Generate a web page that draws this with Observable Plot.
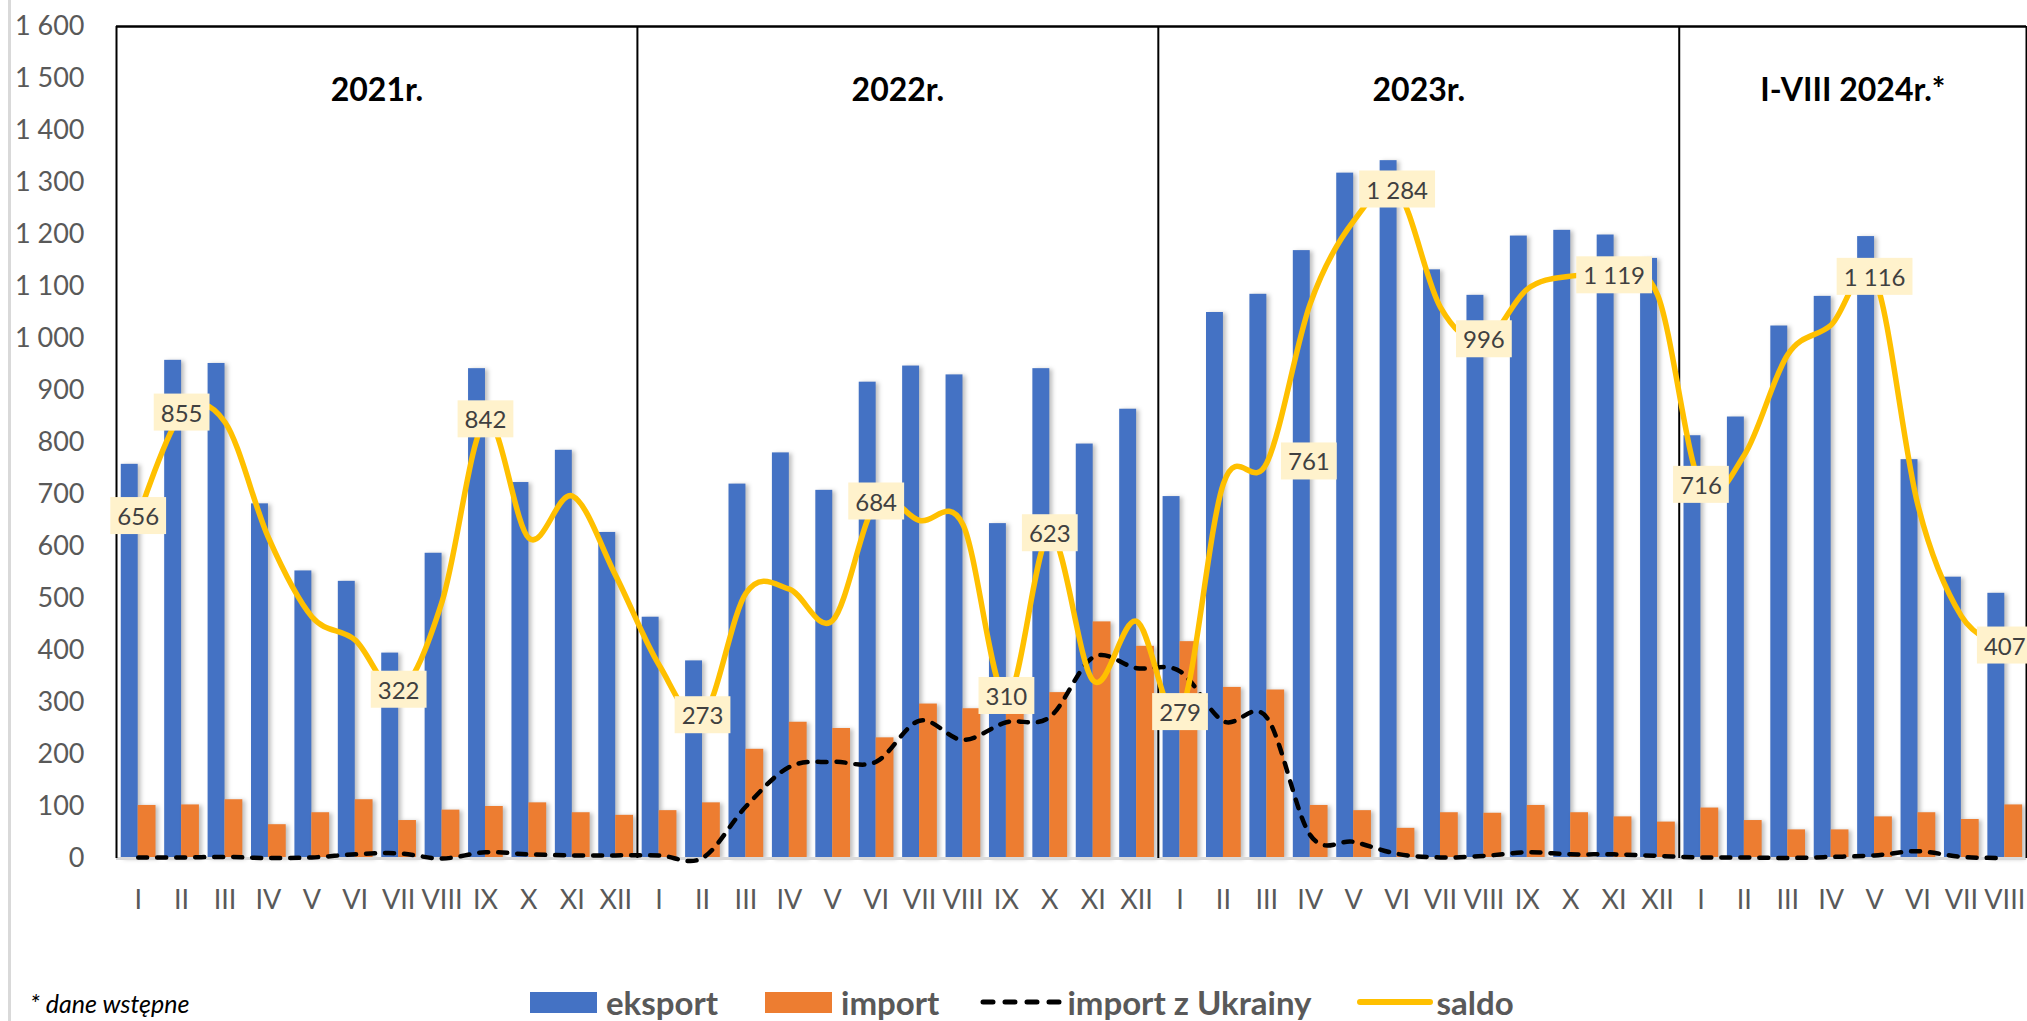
<!DOCTYPE html>
<html>
<head>
<meta charset="utf-8">
<script src="https://cdn.jsdelivr.net/npm/d3@7"></script>
<script src="https://cdn.jsdelivr.net/npm/@observablehq/plot@0.6"></script>
<style>
html, body { margin: 0; padding: 0; background: #fff; }
body { width: 2027px; height: 1021px; overflow: hidden; position: relative; font-family: Lato, sans-serif; }
#chart { position: absolute; left: 0; top: 0; }
.edge { position: absolute; left: 8px; top: 0; width: 3px; height: 1021px; background: #d9d9d9; }
.legend { position: absolute; left: 530px; top: 982px; height: 40px; display: flex; align-items: center;
  font-family: Lato, sans-serif; font-weight: 700; font-size: 33px; color: #595959; white-space: nowrap; }
.legend .item { display: flex; align-items: center; }
.legend .sw { display: inline-block; width: 67px; height: 21px; margin-right: 9px; }
.legend svg { display: block; }
.note { position: absolute; left: 30px; top: 990px; line-height: 1.1; font-family: Lato, sans-serif; font-style: italic; font-size: 25px; color: #000; }
.bars { filter: drop-shadow(3px 1px 2px rgba(0,0,0,0.25)); }
</style>
</head>
<body>
<div class="edge"></div>
<div id="chart"></div>
<div class="legend" id="legend"></div>
<div class="note">* dane wstępne</div>
<script>
// ---- data ----
const years = ["2021r.", "2022r.", "2023r.", "I-VIII 2024r.*"];
const monthsPerYear = [12, 12, 12, 8];
const roman = ["I", "II", "III", "IV", "V", "VI", "VII", "VIII", "IX", "X", "XI", "XII"];

const eksport = [
  758, 958, 952, 682, 553, 533, 395, 587, 942, 723, 785, 627,
  464, 380, 720, 780, 708, 916, 947, 930, 644, 942, 797, 864,
  696, 1050, 1085, 1169, 1318, 1342, 1132, 1083, 1197, 1208, 1199, 1154,
  813, 849, 1024, 1081, 1196, 767, 541, 510
];
const importTotal = [
  102, 103, 113, 65, 88, 113, 73, 93, 100, 107, 88, 83,
  92, 107, 210, 262, 250, 232, 297, 288, 334, 319, 455, 408,
  417, 329, 324, 102, 92, 58, 88, 87, 102, 88, 80, 70,
  97, 73, 55, 55, 80, 88, 75, 103
];
const importUkraina = [
  2, 2, 3, 1, 2, 8, 10, 0, 12, 8, 6, 6,
  6, 1, 100, 176, 186, 186, 265, 228, 262, 272, 387, 366,
  360, 264, 271, 45, 32, 9, 2, 5, 12, 8, 8, 5,
  2, 2, 1, 3, 6, 14, 3, 1
];
const saldo = [
  656, 855, 839, 617, 465, 420, 322, 494, 842, 616, 697, 544,
  372, 273, 510, 518, 458, 684, 650, 642, 310, 623, 342, 456,
  279, 721, 761, 1067, 1226, 1284, 1060, 996, 1095, 1120, 1119, 1084,
  716, 776, 969, 1026, 1116, 679, 466, 407
];
// months whose saldo value is labelled; labelsRight are drawn to the right of the point
const labelled = [0, 1, 6, 8, 13, 17, 20, 21, 24, 29, 31, 34, 36, 40, 43];
const labelledRight = [26];
const yTicks = d3.range(0, 1601, 100);

const seriesNames = ["eksport", "import", "import z Ukrainy", "saldo"];
const colors = { eksport: "#4472C4", import: "#ED7D31", ukraina: "#000000", saldo: "#FFC000" };

// ---- build table ----
const monthLabels = [];
const yearRows = [];
let start = 0;
years.forEach((name, k) => {
  const n = monthsPerYear[k];
  for (let m = 0; m < n; m++) monthLabels.push(roman[m]);
  yearRows.push({ name, start, n });
  start += n;
});
const nMonths = monthLabels.length;
const data = monthLabels.map((m, i) => ({
  i, m, e: eksport[i], im: importTotal[i], ua: importUkraina[i], s: saldo[i]
}));
const separators = [-0.5, ...yearRows.map(r => r.start + r.n - 0.5)];

const fmt = d3.formatLocale({ decimal: ",", thousands: " ", grouping: [3], currency: ["", ""] }).format(",d");

const barW = 0.39;

const svg = Plot.plot({
  width: 2027,
  height: 940,
  marginLeft: 116,
  marginRight: 1,
  marginTop: 26,
  marginBottom: 82,
  style: { fontFamily: "Lato, sans-serif", background: "transparent", overflow: "visible" },
  x: { type: "linear", domain: [-0.5, nMonths - 0.5] },
  y: { domain: [0, 1600] },
  marks: [
    Plot.rect(data, { x1: d => d.i - barW, x2: d => d.i, y1: 0, y2: "e", fill: colors.eksport, className: "bars" }),
    Plot.rect(data, { x1: d => d.i, x2: d => d.i + barW + 0.02, y1: 0, y2: "im", fill: colors.import, className: "bars" }),
    Plot.ruleY([0], { stroke: "#d9d9d9", strokeWidth: 3 }),
    Plot.ruleY([1600], { stroke: "#000", strokeWidth: 2.5 }),
    Plot.ruleX(separators, { stroke: "#000", strokeWidth: 2 }),
    Plot.axisY({ ticks: yTicks, tickFormat: fmt, tickSize: 0, tickPadding: 32, fontSize: 27, color: "#595959", label: null }),
    Plot.axisX({ ticks: d3.range(nMonths), tickFormat: i => monthLabels[i], tickSize: 0, tickPadding: 31, fontSize: 27, color: "#595959", label: null }),
    Plot.line(data, { x: "i", y: "ua", stroke: colors.ukraina, strokeWidth: 4.5, strokeDasharray: "9,10", strokeLinecap: "round", curve: "cardinal", tension: 0 }),
    Plot.line(data, { x: "i", y: "s", stroke: colors.saldo, strokeWidth: 5.5, curve: "cardinal", tension: 0 }),
    Plot.text(data.filter(d => labelled.includes(d.i)), { x: "i", y: "s", text: d => fmt(d.s), fontSize: 24, fill: "#404040", className: "lbl" }),
    Plot.text(data.filter(d => labelledRight.includes(d.i)), { x: "i", y: "s", text: d => fmt(d.s), fontSize: 24, fill: "#404040", dx: 42, className: "lbl" }),
    Plot.text(yearRows, { x: d => d.start + (d.n - 1) / 2, text: "name", frameAnchor: "top", dy: 52, fontSize: 32, fontWeight: 700, fill: "#000" })
  ]
});
document.getElementById("chart").append(svg);

// label background boxes derived from the rendered text
svg.querySelectorAll("g.lbl text").forEach(t => {
  const b = t.getBBox();
  const r = document.createElementNS("http://www.w3.org/2000/svg", "rect");
  r.setAttribute("x", b.x - 7);
  r.setAttribute("y", b.y - 4);
  r.setAttribute("width", b.width + 14);
  r.setAttribute("height", b.height + 8);
  r.setAttribute("fill", "#FFF2CC");
  const tr = t.getAttribute("transform");
  if (tr) r.setAttribute("transform", tr);
  t.parentNode.insertBefore(r, t);
});

// ---- legend ----
const legend = document.getElementById("legend");
const ns = "http://www.w3.org/2000/svg";
function lineSwatch(w, color, width, dash) {
  const s = document.createElementNS(ns, "svg");
  s.setAttribute("width", w); s.setAttribute("height", 12);
  const l = document.createElementNS(ns, "line");
  l.setAttribute("x1", 3); l.setAttribute("x2", w - 3);
  l.setAttribute("y1", 6); l.setAttribute("y2", 6);
  l.setAttribute("stroke", color); l.setAttribute("stroke-width", width);
  l.setAttribute("stroke-linecap", "round");
  if (dash) l.setAttribute("stroke-dasharray", dash);
  s.append(l);
  return s;
}
const legendItems = [
  { name: seriesNames[0], kind: "box", color: colors.eksport, gap: 47 },
  { name: seriesNames[1], kind: "box", color: colors.import, gap: 41 },
  { name: seriesNames[2], kind: "dash", color: colors.ukraina, gap: 45 },
  { name: seriesNames[3], kind: "line", color: colors.saldo, gap: 0 }
];
legendItems.forEach(it => {
  const d = document.createElement("div");
  d.className = "item";
  d.style.marginRight = it.gap + "px";
  if (it.kind === "box") {
    const sw = document.createElement("span");
    sw.className = "sw"; sw.style.background = it.color;
    d.append(sw);
  } else if (it.kind === "dash") {
    const s = lineSwatch(86, it.color, 5, "10,12");
    s.style.marginRight = "1px";
    d.append(s);
  } else {
    const s = lineSwatch(76, it.color, 6, null);
    s.style.marginRight = "4px";
    d.append(s);
  }
  const tx = document.createElement("span");
  tx.textContent = it.name;
  d.append(tx);
  legend.append(d);
});
</script>
</body>
</html>
